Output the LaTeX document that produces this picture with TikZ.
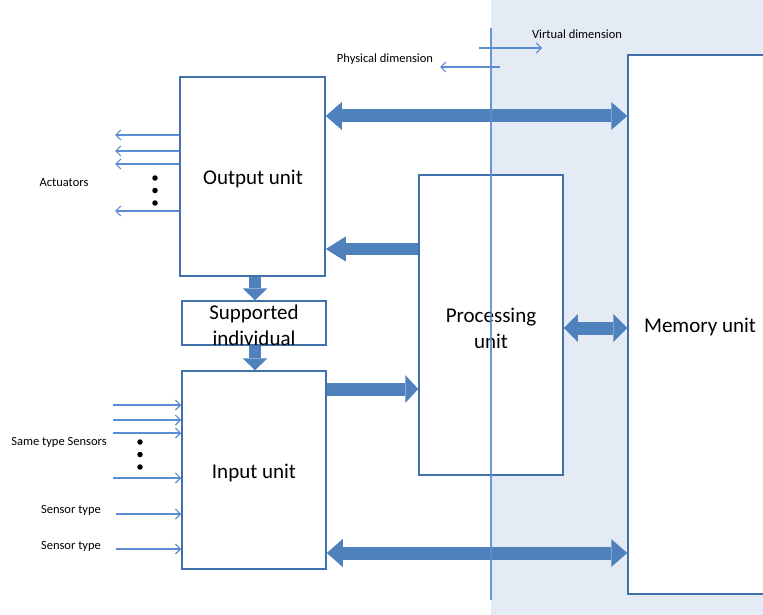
\documentclass[tikz,border=0pt]{standalone}
\usepackage{fontspec}
\setmainfont{Carlito}
\usetikzlibrary{arrows.meta,calc}
\definecolor{boxc}{RGB}{65,113,170}
\definecolor{arrc}{RGB}{79,129,189}
\definecolor{thinc}{RGB}{91,141,210}
\definecolor{virt}{RGB}{229,235,245}
\tikzset{
  bigtip/.tip={Triangle[width=28pt,length=16pt,line width=0pt]},
  midtip/.tip={Triangle[width=25pt,length=12pt,line width=0pt]},
  sidetip/.tip={Triangle[width=28pt,length=14pt,line width=0pt]}
}
\begin{document}
\begin{tikzpicture}[x=1pt,y=-1pt,
  unit/.style={draw=boxc, line width=1.5pt, fill=white, inner sep=0pt},
  bigtext/.style={font=\fontsize{21}{26}\selectfont, align=center, inner sep=0pt},
  small/.style={font=\fontsize{12.5}{15}\selectfont, inner sep=0pt},
  thinarr/.style={draw=thinc, line width=1.2pt, -{Straight Barb[length=5pt,width=10pt]}},
  bigarr/.style={draw=arrc, line width=13pt},
  dot/.style={circle, fill=black, inner sep=0pt, minimum size=5.5pt}
]
\useasboundingbox (0,0) rectangle (763,615);
% virtual region
\fill[virt] (491,0) rectangle (763,615);

% boxes
\node[unit, minimum width=145pt, minimum height=199pt] (out) at (252.5,176.5) {};
\node[bigtext] (outt) at (253,179) {Output unit};
\node[unit, minimum width=144pt, minimum height=44pt] (sup) at (254,323) {};
\node[bigtext] (supt) at (254,325) {Supported\\individual};
\node[unit, minimum width=144pt, minimum height=198pt] (inp) at (254,470) {};
\node[bigtext] (inpt) at (254,473) {Input unit};
\node[unit, minimum width=144pt, minimum height=300pt] (proc) at (491,325) {};
\node[bigtext] (proct) at (491,328) {Processing\\unit};
\node[unit, minimum width=172pt, minimum height=539pt] (mem) at (714,324.5) {};
\node[bigtext] (memt) at (700,327) {Memory unit};

% row helper coordinates
\coordinate (r1) at (0,116);
\coordinate (r2) at (0,249);
\coordinate (r3) at (0,389);
\coordinate (r4) at (0,328);
\coordinate (r5) at (0,553);
\coordinate (cdown) at (255,0);

% big arrows
\draw[bigarr, {bigtip}-{bigtip}] (out.east |- r1) -- (mem.west |- r1);
\draw[bigarr, {bigtip}-{bigtip}] (inp.east |- r5) -- (mem.west |- r5);
\draw[bigarr, line width=12pt, -{Triangle[width=25pt,length=20pt,line width=0pt]}] (proc.west |- r2) -- (out.east |- r2);
\draw[bigarr, -{Triangle[width=28pt,length=13pt,line width=0pt]}] (inp.east |- r3) -- (proc.west |- r3);
\draw[bigarr, {sidetip}-{sidetip}] (proc.east |- r4) -- (mem.west |- r4);
\draw[bigarr, line width=12pt, -{midtip}] (out.south -| cdown) -- (sup.north -| cdown);
\draw[bigarr, line width=12pt, -{midtip}] (sup.south -| cdown) -- (inp.north -| cdown);

% actuators
\foreach \yy [count=\i] in {135,151,164,211} {
  \coordinate (act\i) at (115,\yy);
  \draw[thinarr] (out.west |- act\i) -- (act\i);
}
\node[dot] (ad1) at (155,178) {};
\node[dot] (ad2) at (155,190.5) {};
\node[dot] (ad3) at (155,203) {};
\node[small] (actl) at (64,183) {Actuators};

% sensors
\foreach \yy [count=\i] in {405,420,433,478} {
  \coordinate (sen\i) at (113,\yy);
  \draw[thinarr] (sen\i) -- (inp.west |- sen\i);
}
\coordinate (st1) at (116,514);
\coordinate (st2) at (116,549);
\draw[thinarr] (st1) -- (inp.west |- st1);
\draw[thinarr] (st2) -- (inp.west |- st2);
\node[dot] (sd1) at (140,442) {};
\node[dot] (sd2) at (140,454.5) {};
\node[dot] (sd3) at (140,467) {};
\node[small] (samel) at (59,442) {Same type Sensors};
\node[small] (stl1) at (71,510) {Sensor type};
\node[small] (stl2) at (71,546) {Sensor type};

% dimension divider
\coordinate (dtop) at (491,28);
\coordinate (dbot) at (491,600);
\draw[draw=thinc, line width=1.4pt, opacity=0.9] (dtop) -- (dbot);
\coordinate (v1) at (479,48);
\coordinate (v2) at (542,48);
\coordinate (p1) at (500,67);
\coordinate (p2) at (440,67);
\draw[thinarr] (v1) -- (v2);
\draw[thinarr] (p1) -- (p2);
\node[small] (virtl) at (577,34) {Virtual dimension};
\node[small] (physl) at (385,59) {Physical dimension};
\end{tikzpicture}
\end{document}
